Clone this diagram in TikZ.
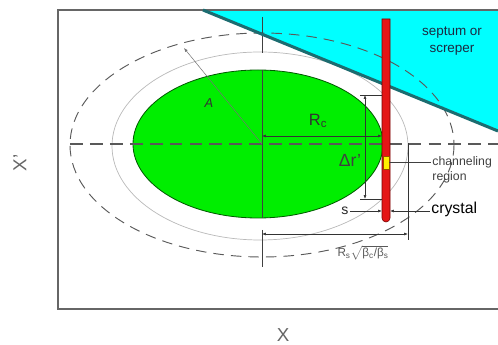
\documentclass[tikz,border=0pt]{standalone}
\usepackage{amsmath}
\usepackage{fontspec}
\setmainfont{Liberation Sans}
\usetikzlibrary{arrows.meta,positioning,calc}
\definecolor{beamgreen}{RGB}{0,238,0}
\definecolor{septumcyan}{RGB}{0,255,255}
\definecolor{septumedge}{RGB}{28,108,112}
\definecolor{crystalred}{RGB}{228,22,22}
\definecolor{septumtext}{RGB}{28,42,66}

\begin{document}
\begin{tikzpicture}[x=0.03cm,y=-0.03cm,
    dim/.style={black!80,line width=0.55pt,{Latex[length=3.4pt,width=2.6pt]}-{Latex[length=3.4pt,width=2.6pt]}},
    tip/.style={black!80,line width=0.55pt,-{Latex[length=3.4pt,width=2.6pt]}},
    lbl/.style={inner sep=1pt,font=\fontsize{11}{13}\selectfont}]
  \useasboundingbox (0,0) rectangle (498,345);
  % septum area and frame
  \fill[septumcyan] (203,10) -- (498,10) -- (498,131) -- cycle;
  \draw[gray!80!black,line width=0.9pt] (498,10) -- (58,10) -- (58,309) -- (498,309);
  % envelopes and beam
  \draw[gray!70!black,line width=0.8pt,dash pattern=on 9pt off 6pt] (262,145) ellipse [x radius=192,y radius=112];
  \draw[gray!55,line width=0.6pt] (260,146) ellipse [x radius=148,y radius=94];
  \draw[green!35!black,fill=beamgreen,line width=0.7pt] (258,144) ellipse [x radius=125,y radius=74];
  % axes
  \draw[gray!70!black,line width=0.9pt,dash pattern=on 11pt off 6pt] (70,144) -- (498,144);
  \draw[black!75,line width=0.6pt] (262,17) -- (262,53) (262,70) -- (262,218) (262,230) -- (262,267);
  \draw[septumedge,line width=2.6pt] (203,10) -- (498,131);
  % amplitude A
  \coordinate (ctr) at (262,144);
  \coordinate (aend) at (184,48);
  \draw[tip,black!55,line width=0.45pt] (ctr) -- (aend);
  \node[lbl,font=\fontsize{11}{13}\selectfont\itshape,black!80] (A) at (209,103) {A};
  % crystal
  \filldraw[draw=red!45!black,fill=crystalred,line width=0.5pt] (382,19) -- (390,19) -- (390,218) arc[start angle=0,end angle=180,radius=4] -- cycle;
  \filldraw[draw=orange!60!black,fill=yellow,line width=0.3pt] (383,156) rectangle (389,169);
  % R_c
  \draw[dim] (262,136) -- (382,136);
  \node[lbl,font=\fontsize{14}{16}\selectfont,black!80] (Rc) at (318,121) {R\textsubscript{c}};
  % Delta r'
  \draw[black!80,line width=0.55pt] (360,95) -- (382,95) (360,199) -- (382,199);
  \draw[dim] (365,95) -- (365,199);
  \node[lbl,font=\fontsize{15}{17}\selectfont,black!75] (dr) at (350,160) {Δr'};
  % R_s sqrt(beta_c/beta_s)
  \draw[black!80,line width=0.55pt] (408,143) -- (408,240);
  \draw[dim] (262,234) -- (408,234);
  \node[lbl,font=\fontsize{10}{12}\selectfont,black!65] (Rs) at (363,253) {R\textsubscript{s}$\sqrt{\text{β\textsubscript{c}/β\textsubscript{s}}}$};
  % s and crystal
  \node[lbl,font=\fontsize{12}{14}\selectfont,black!85] (s) at (345,211) {s};
  \coordinate (cleft) at (382,211);
  \coordinate (cright) at (390,211);
  \draw[tip] (s) -- (cleft);
  \node[lbl,font=\fontsize{13.5}{16}\selectfont,anchor=west] (crys) at (430,209) {crystal};
  \draw[tip] (crys.west |- cright) -- (cright);
  % channeling region
  \coordinate (chan0) at (389,162);
  \node[lbl,font=\fontsize{10.5}{13}\selectfont,align=left,anchor=north west,black!75] (chan) at (431,155) {channeling\\region};
  \draw[black!75,line width=0.55pt] (chan0) -- (chan0 -| chan.west);
  % septum
  \node[lbl,font=\fontsize{11.5}{15}\selectfont,align=center,septumtext] (sept) at (452,41) {septum or\\screper};
  % axis labels
  \node[lbl,font=\fontsize{16}{18}\selectfont,black!60] (xlab) at (283,335) {X};
  \node[lbl,font=\fontsize{16}{18}\selectfont,black!60,rotate=90] (xplab) at (20,163) {X'};
\end{tikzpicture}
\end{document}
